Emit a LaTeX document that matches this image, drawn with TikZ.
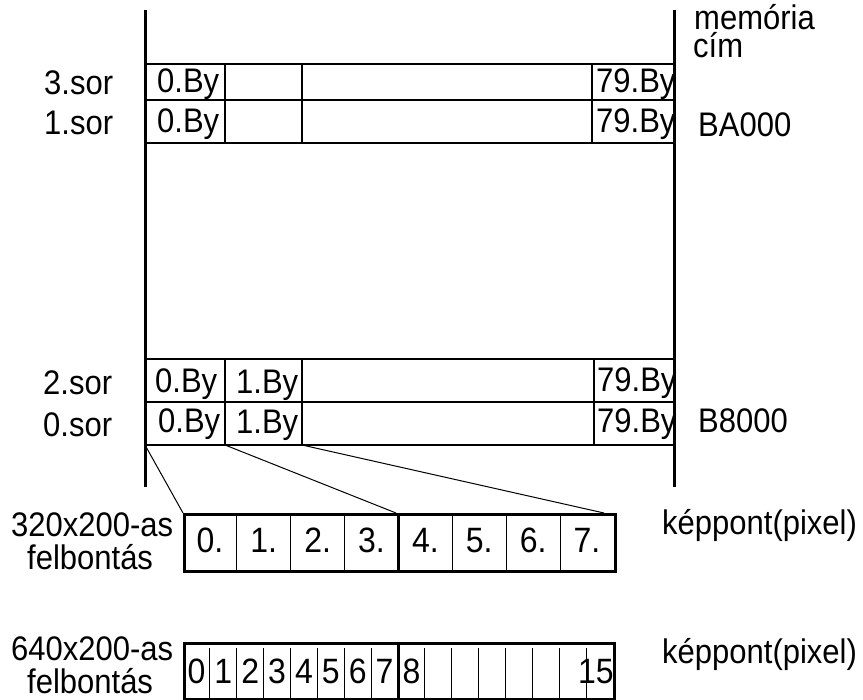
\documentclass[tikz,border=0pt]{standalone}
\usepackage{fontspec}
\setmainfont{Liberation Sans}
% slightly elongated lettering
\newcommand{\tallset}[1]{\scalebox{1}[1.1]{#1}}
\begin{document}
\begin{tikzpicture}[x=1pt,y=-1pt,
  thinln/.style={line width=1.2pt},
  thickln/.style={line width=3pt},
  lbl/.style={inner sep=0pt, anchor=base west, font=\fontsize{31}{33}\selectfont},
  clbl/.style={inner sep=0pt, anchor=base, font=\fontsize{32}{34}\selectfont},
  pixbox/.style={draw, thickln, inner sep=0pt, anchor=north west}]
\useasboundingbox (0,0) rectangle (863,700);

% memory column borders
\draw[thickln] (145,10) -- (145,487);
\draw[thickln] (674,10) -- (674,487);

% upper rows (1. and 3. sor)
\foreach \y in {64,100,143} \draw[thinln] (145,\y) -- (673,\y);
\foreach \x in {225,302,592} \draw[thinln] (\x,64) -- (\x,143);

% lower rows (0. and 2. sor)
\foreach \y in {359,402,445} \draw[thinln] (145,\y) -- (673,\y);
\foreach \x in {225,302,594} \draw[thinln] (\x,359) -- (\x,445);

\coordinate (b0) at (145,445);
\coordinate (b1) at (225,445);
\coordinate (b2) at (302,445);

% row labels
\node[lbl] (s3) at (44,95) {\tallset{3.sor}};
\node[lbl] (s1) at (44,135) {\tallset{1.sor}};
\node[lbl] (s2) at (43,395) {\tallset{2.sor}};
\node[lbl] (s0) at (43,437) {\tallset{0.sor}};

% byte labels
\node[lbl] (u30) at (157,93) {\tallset{0.By}};
\node[lbl] (u379) at (596,93) {\tallset{79.By}};
\node[lbl] (u10) at (157,133) {\tallset{0.By}};
\node[lbl] (u179) at (596,133) {\tallset{79.By}};
\node[lbl] (l20) at (155,393) {\tallset{0.By}};
\node[lbl] (l21) at (236,394) {\tallset{1.By}};
\node[lbl] (l279) at (597,392) {\tallset{79.By}};
\node[lbl] (l00) at (158,433) {\tallset{0.By}};
\node[lbl] (l01) at (236,434) {\tallset{1.By}};
\node[lbl] (l079) at (597,433) {\tallset{79.By}};

% addresses
\node[lbl] (mem) at (694,30) {\tallset{memória}};
\node[lbl] (cim) at (693,58) {\tallset{cím}};
\node[lbl] (ba) at (698,137) {\tallset{BA000}};
\node[lbl] (b8) at (698,433) {\tallset{B8000}};

% 320x200 pixel byte
\node[pixbox, minimum width=431pt, minimum height=57pt] (lowres) at (183,513) {};
\foreach \i in {1,2,3,5,6,7} \draw[thinln] (183+\i*53.875,513) -- (183+\i*53.875,570);
\draw[thickln] (398.5,513) -- (398.5,570);
\foreach \i in {0,...,7} \node[clbl] (p\i) at (183+\i*53.875+26.9,553) {\tallset{\i.}};
\node[lbl] (lr1) at (11,537) {\tallset{320x200-as}};
\node[lbl] (lr2) at (27,570) {\tallset{felbontás}};
\node[lbl] (lrp) at (662,535) {\tallset{képpont(pixel)}};

% 640x200 pixel byte
\node[pixbox, minimum width=430pt, minimum height=56pt] (hires) at (183,642) {};
\foreach \i in {1,...,7,9,10,...,15} \draw[thinln] (183+\i*26.875,648) -- (183+\i*26.875,698);
\draw[thickln] (398,645) -- (398,698);
\foreach \i in {0,...,8} \node[clbl] (q\i) at (183+\i*26.875+13.4,683) {\tallset{\i}};
\node[clbl] (q15) at (596,683) {\tallset{15}};
\node[lbl] (hr1) at (11,660) {\tallset{640x200-as}};
\node[lbl] (hr2) at (27,693) {\tallset{felbontás}};
\node[lbl] (hrp) at (662,663) {\tallset{képpont(pixel)}};

% fan-out from the first two bytes of row 0 to the pixel row
\coordinate (t1) at (396,513);
\coordinate (t2) at (604,513);
\draw[line width=1pt] (b0) -- (lowres.north west);
\draw[line width=1pt] (b1) -- (t1);
\draw[line width=1pt] (b2) -- (t2);
\end{tikzpicture}
\end{document}
